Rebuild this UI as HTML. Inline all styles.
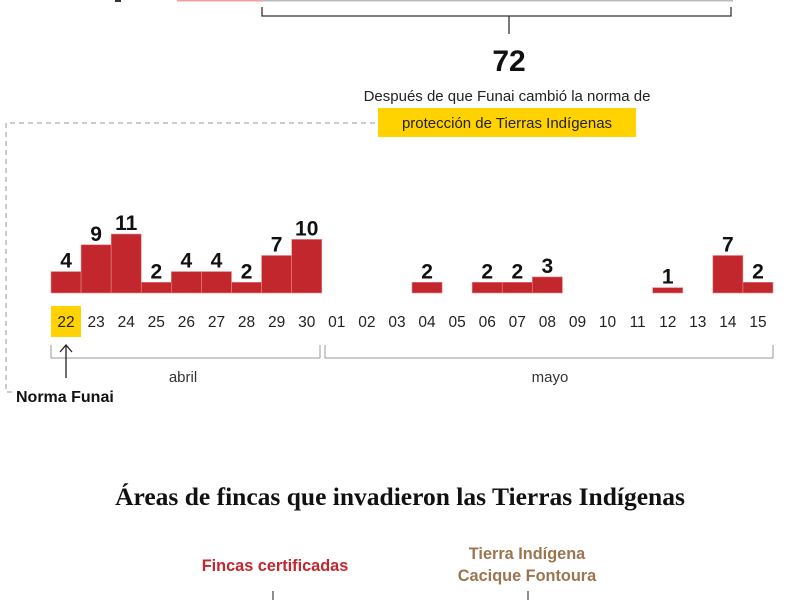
<!DOCTYPE html>
<html><head><meta charset="utf-8">
<style>
html,body{margin:0;padding:0;background:#fff;width:800px;height:600px;overflow:hidden}
svg{display:block}
.sans{font-family:"Liberation Sans",sans-serif}
</style></head>
<body>
<svg id="s" width="800" height="600" viewBox="0 0 800 600" xmlns="http://www.w3.org/2000/svg" class="sans">
<rect x="115" y="0" width="6" height="2" fill="#333"/>
<rect x="177" y="0" width="85" height="1.5" fill="#f0a0a0"/>
<rect x="262" y="0" width="471" height="1.5" fill="#bbb"/>
<path d="M262 7 V16 H731 V7" fill="none" stroke="#333" stroke-width="1.3"/>
<line x1="509" y1="16" x2="509" y2="34" stroke="#333" stroke-width="1.3"/>
<text x="509" y="71" text-anchor="middle" font-size="30" font-weight="bold" fill="#111">72</text>
<text x="507" y="101" text-anchor="middle" font-size="15" fill="#222">Después de que Funai cambió la norma de</text>
<rect x="378" y="108" width="258" height="29" fill="#ffd200"/>
<text x="507" y="128" text-anchor="middle" font-size="15" fill="#222">protección de Tierras Indígenas</text>
<path d="M375 123 H6 V392 H12" fill="none" stroke="#999" stroke-width="1" stroke-dasharray="5,4"/>
<g id="bars"></g>
<rect x="51" y="306" width="30" height="31" fill="#ffd200"/>
<g id="days"></g>
<path d="M51 345 V358 H320 V345" fill="none" stroke="#999" stroke-width="1"/>
<path d="M325 345 V358 H773 V345" fill="none" stroke="#999" stroke-width="1"/>
<text x="183" y="382" text-anchor="middle" font-size="15" fill="#333">abril</text>
<text x="550" y="382" text-anchor="middle" font-size="15" fill="#333">mayo</text>
<line x1="66" y1="378" x2="66" y2="346" stroke="#222" stroke-width="1.3"/>
<path d="M60 352 L66 345 L72 352" fill="none" stroke="#222" stroke-width="1.3"/>
<text x="16" y="402" font-size="16" font-weight="bold" fill="#111">Norma Funai</text>
<text x="400" y="505" text-anchor="middle" font-family="Liberation Serif,serif" font-size="25.5" font-weight="bold" fill="#111">Áreas de fincas que invadieron las Tierras Indígenas</text>
<text x="275" y="571" text-anchor="middle" font-size="16.3" font-weight="bold" fill="#c4262e">Fincas certificadas</text>
<text x="527" y="559" text-anchor="middle" font-size="16.3" font-weight="bold" fill="#9c7550">Tierra Indígena</text>
<text x="527" y="581" text-anchor="middle" font-size="16.3" font-weight="bold" fill="#9c7550">Cacique Fontoura</text>
<line x1="273" y1="591" x2="273" y2="600" stroke="#444" stroke-width="1.2"/>
<line x1="528" y1="591" x2="528" y2="600" stroke="#444" stroke-width="1.2"/>
</svg>
<script>
var v=[4,9,11,2,4,4,2,7,10,0,0,0,2,0,2,2,3,0,0,0,1,0,7,2];
var d=["22","23","24","25","26","27","28","29","30","01","02","03","04","05","06","07","08","09","10","11","12","13","14","15"];
var ns="http://www.w3.org/2000/svg",b=document.getElementById("bars"),g=document.getElementById("days");
var w=722/24,base=293,k=5.36;
for(var i=0;i<24;i++){
 var x=51+i*w;
 if(v[i]){
  var h=v[i]*k,r=document.createElementNS(ns,"rect");
  r.setAttribute("x",x);r.setAttribute("y",base-h);r.setAttribute("width",w);r.setAttribute("height",h);
  r.setAttribute("fill","#c1272d");r.setAttribute("stroke","#e88");r.setAttribute("stroke-width","0.6");
  b.appendChild(r);
  var t=document.createElementNS(ns,"text");
  t.setAttribute("x",x+w/2);t.setAttribute("y",base-h-4);t.setAttribute("text-anchor","middle");
  t.setAttribute("font-size","21");t.setAttribute("font-weight","bold");t.setAttribute("fill","#111");
  t.textContent=v[i];b.appendChild(t);
 }
 var e=document.createElementNS(ns,"text");
 e.setAttribute("x",x+w/2);e.setAttribute("y",327);e.setAttribute("text-anchor","middle");
 e.setAttribute("font-size","15.5");e.setAttribute("fill","#222");e.textContent=d[i];g.appendChild(e);
}
</script>
</body></html>
